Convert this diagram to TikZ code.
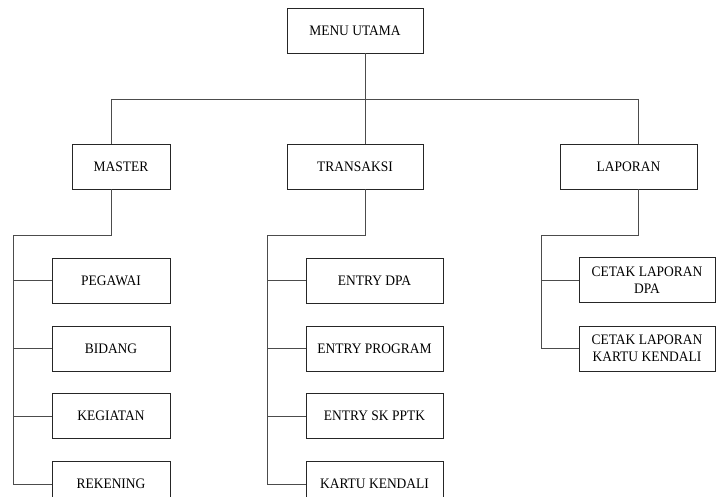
\documentclass[tikz,border=0pt]{standalone}
\usepackage{fontspec}
\setmainfont{Liberation Serif}[FakeStretch=0.93]
\begin{document}
\begin{tikzpicture}[x=1pt,y=-1pt]
  \tikzset{ menubox/.style={draw=black!85,rectangle,fill=white,inner sep=0pt,line width=0.8pt,
      minimum height=45pt,align=center,font=\fontsize{14.5}{17}\selectfont},
    ln/.style={draw=black!70,line width=0.8pt},
  }
  \useasboundingbox (0,0) rectangle (724,497);
  \clip (0,0) rectangle (724,497);

  % level 0 and 1
  \node[menubox,minimum width=136pt] (menu) at (355,30.5)   {MENU UTAMA};
  \node[menubox,minimum width=98pt]  (master) at (121,166.5)  {MASTER};
  \node[menubox,minimum width=136pt] (trans) at (355,166.5)  {TRANSAKSI};
  \node[menubox,minimum width=137pt] (lap) at (628.5,166.5) {LAPORAN};

  % master items
  \node[menubox,minimum width=118pt] (peg) at (111,280.5) {PEGAWAI};
  \node[menubox,minimum width=118pt] (bid) at (111,348.5) {BIDANG};
  \node[menubox,minimum width=118pt] (keg) at (111,416)   {KEGIATAN};
  \node[menubox,minimum width=118pt] (rek) at (111,484)   {REKENING};

  % transaksi items
  \node[menubox,minimum width=137pt] (dpa) at (374.5,280.5) {ENTRY DPA};
  \node[menubox,minimum width=137pt] (prog) at (374.5,348.5) {ENTRY PROGRAM};
  \node[menubox,minimum width=137pt] (sk) at (374.5,416)   {ENTRY SK PPTK};
  \node[menubox,minimum width=137pt] (kk) at (374.5,484)   {KARTU KENDALI};

  % laporan items
  \node[menubox,minimum width=136pt] (cdpa) at (647,280) {CETAK LAPORAN\\DPA};
  \node[menubox,minimum width=136pt] (ckk) at (647,348.5) {CETAK LAPORAN\\KARTU KENDALI};

  \coordinate (bm) at (111,99);
  \coordinate (bt) at (365,99);
  \coordinate (bl) at (638,99);
  \coordinate (m0) at (13,235);
  \coordinate (t0) at (267,235);
  \coordinate (l0) at (541,235);

  \draw[ln] (menu.south -| bt) -- (trans.north -| bt);
  \draw[ln] (bm) -- (bl);
  \draw[ln] (bm) -- (master.north -| bm);
  \draw[ln] (bl) -- (lap.north -| bl);

  \draw[ln] (master.south -| bm) |- (m0) |- (rek.west);
  \draw[ln] (trans.south -| bt) |- (t0) |- (kk.west);
  \draw[ln] (lap.south -| bl) |- (l0) |- (ckk.west);
  \foreach \n in {peg,bid,keg} \draw[ln] (\n.west -| m0) -- (\n.west);
  \foreach \n in {dpa,prog,sk} \draw[ln] (\n.west -| t0) -- (\n.west);
  \draw[ln] (cdpa.west -| l0) -- (cdpa.west);

\end{tikzpicture}
\end{document}
